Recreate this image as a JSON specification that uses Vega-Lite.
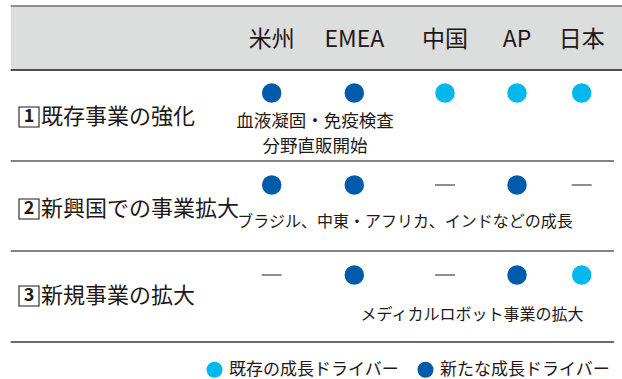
{
  "$schema": "https://vega.github.io/schema/vega-lite/v6.json",
  "width": 622,
  "height": 379,
  "autosize": {"type": "fit", "contains": "padding"},
  "padding": 0,
  "background": "white",
  "config": {"view": {"stroke": null}, "font": "Noto Sans CJK JP"},
  "datasets": {
    "grid": [
      {"region": "米州", "col": 1, "row": 1, "driver": "新たな成長ドライバー"},
      {"region": "EMEA", "col": 2, "row": 1, "driver": "新たな成長ドライバー"},
      {"region": "中国", "col": 3, "row": 1, "driver": "既存の成長ドライバー"},
      {"region": "AP", "col": 4, "row": 1, "driver": "既存の成長ドライバー"},
      {"region": "日本", "col": 5, "row": 1, "driver": "既存の成長ドライバー"},
      {"region": "米州", "col": 1, "row": 2, "driver": "新たな成長ドライバー"},
      {"region": "EMEA", "col": 2, "row": 2, "driver": "新たな成長ドライバー"},
      {"region": "中国", "col": 3, "row": 2, "driver": "なし"},
      {"region": "AP", "col": 4, "row": 2, "driver": "新たな成長ドライバー"},
      {"region": "日本", "col": 5, "row": 2, "driver": "なし"},
      {"region": "米州", "col": 1, "row": 3, "driver": "なし"},
      {"region": "EMEA", "col": 2, "row": 3, "driver": "新たな成長ドライバー"},
      {"region": "中国", "col": 3, "row": 3, "driver": "なし"},
      {"region": "AP", "col": 4, "row": 3, "driver": "新たな成長ドライバー"},
      {"region": "日本", "col": 5, "row": 3, "driver": "既存の成長ドライバー"}
    ],
    "rows": [
      {"row": 1, "num": "1", "label": "既存事業の強化"},
      {"row": 2, "num": "2", "label": "新興国での事業拡大"},
      {"row": 3, "num": "3", "label": "新規事業の拡大"}
    ],
    "notes": [
      {"row": 1, "note": "血液凝固・免疫検査\n分野直販開始"},
      {"row": 2, "note": "ブラジル、中東・アフリカ、インドなどの成長"},
      {"row": 3, "note": "メディカルロボット事業の拡大"}
    ]
  },
  "resolve": {"scale": {"x": "independent", "y": "independent"}},
  "layer": [
    {
      "data": {"name": "grid"},
      "layer": [
        {
          "data": {"values": [{}]},
          "mark": {"type": "rect", "color": "#dcdddd"},
          "encoding": {
            "x": {"datum": -0.5, "type": "quantitative", "axis": null,
                  "scale": {"domain": [-0.5, 0, 1, 2, 3, 4, 5, 5.5], "range": [10.7, 31.7, 271.7, 354.3, 445, 517, 581.7, 622], "zero": false, "nice": false}},
            "x2": {"datum": 5.5},
            "y": {"datum": -0.5, "type": "quantitative", "axis": null,
                  "scale": {"domain": [-0.5, 0, 0.5, 1, 1.5, 2, 2.5, 3, 3.5], "range": [6, 40, 70, 93, 161, 185, 251, 275, 342], "zero": false, "nice": false}},
            "y2": {"datum": 0.5}
          }
        },
        {
          "data": {"values": [{}]},
          "mark": {"type": "rule", "color": "#6e6e6e", "strokeWidth": 1.3},
          "encoding": {"x": {"datum": -0.5, "type": "quantitative"}, "x2": {"datum": 5.5}, "y": {"datum": -0.5, "type": "quantitative"}}
        },
        {
          "data": {"values": [{}]},
          "mark": {"type": "rule", "color": "#1a1a1a", "strokeWidth": 1.4},
          "encoding": {"x": {"datum": -0.5, "type": "quantitative"}, "x2": {"datum": 5.5}, "y": {"datum": 0.5, "type": "quantitative"}}
        },
        {
          "data": {"values": [{}]},
          "mark": {"type": "rule", "color": "#5a5a5a", "strokeWidth": 1.3},
          "encoding": {"x": {"datum": -0.5, "type": "quantitative"}, "x2": {"datum": 5.4}, "y": {"datum": 1.5, "type": "quantitative"}}
        },
        {
          "data": {"values": [{}]},
          "mark": {"type": "rule", "color": "#5a5a5a", "strokeWidth": 1.3},
          "encoding": {"x": {"datum": -0.5, "type": "quantitative"}, "x2": {"datum": 5.4}, "y": {"datum": 2.5, "type": "quantitative"}}
        },
        {
          "data": {"values": [{}]},
          "mark": {"type": "rule", "color": "#3a3a3a", "strokeWidth": 1.3},
          "encoding": {"x": {"datum": -0.5, "type": "quantitative"}, "x2": {"datum": 5.4}, "y": {"datum": 3.5, "type": "quantitative"}}
        },
        {
          "transform": [{"filter": "datum.row === 1"}],
          "mark": {"type": "text", "fontSize": 23, "color": "#231815", "baseline": "middle", "align": "center", "font": "Noto Sans CJK JP"},
          "encoding": {
            "x": {"field": "col", "type": "quantitative"},
            "y": {"datum": 0, "type": "quantitative"},
            "text": {"field": "region"}
          }
        },
        {
          "transform": [{"filter": "datum.driver !== 'なし'"}],
          "mark": {"type": "point", "filled": true, "size": 380, "opacity": 1, "strokeWidth": 0},
          "encoding": {
            "x": {"field": "col", "type": "quantitative"},
            "y": {"field": "row", "type": "quantitative"},
            "color": {
              "field": "driver", "type": "nominal",
              "scale": {"domain": ["既存の成長ドライバー", "新たな成長ドライバー"], "range": ["#00b7ee", "#005bab"]},
              "legend": {
                "orient": "none", "legendX": 206, "legendY": 361, "direction": "horizontal",
                "title": null, "symbolType": "circle", "symbolSize": 256, "symbolStrokeWidth": 0,
                "labelFontSize": 17, "labelFont": "Noto Sans CJK JP", "labelColor": "#231815",
                "labelOffset": 6, "columnPadding": 18, "labelLimit": 400, "padding": 0
              }
            }
          }
        },
        {
          "transform": [{"filter": "datum.driver === 'なし'"}],
          "mark": {"type": "point", "shape": "stroke", "filled": false, "size": 400, "stroke": "#444444", "strokeWidth": 1.2, "opacity": 1},
          "encoding": {
            "x": {"field": "col", "type": "quantitative"},
            "y": {"field": "row", "type": "quantitative"}
          }
        }
      ]
    },
    {
      "data": {"name": "rows"},
      "layer": [
        {
          "mark": {"type": "point", "shape": "square", "filled": false, "size": 400, "stroke": "#231815", "strokeWidth": 1.1, "opacity": 1},
          "encoding": {
            "x": {"datum": 0, "type": "quantitative", "axis": null,
                  "scale": {"domain": [-0.5, 0, 5.5], "range": [10.7, 29, 622], "zero": false, "nice": false}},
            "y": {"field": "row", "type": "quantitative", "axis": null,
                  "scale": {"domain": [1, 2, 3], "range": [117, 209, 296], "zero": false, "nice": false}}
          }
        },
        {
          "mark": {"type": "text", "fontSize": 18, "fontWeight": "bold", "color": "#231815", "align": "center", "baseline": "middle", "font": "Noto Sans CJK JP"},
          "encoding": {
            "x": {"datum": 0, "type": "quantitative"},
            "y": {"field": "row", "type": "quantitative"},
            "text": {"field": "num"}
          }
        },
        {
          "mark": {"type": "text", "fontSize": 22, "color": "#231815", "align": "left", "baseline": "middle", "dx": 12, "font": "Noto Sans CJK JP"},
          "encoding": {
            "x": {"datum": 0, "type": "quantitative"},
            "y": {"field": "row", "type": "quantitative"},
            "text": {"field": "label"}
          }
        }
      ]
    },
    {
      "data": {"name": "notes"},
      "layer": [
        {
          "transform": [{"filter": "datum.row === 1"}],
          "mark": {"type": "text", "fontSize": 17.5, "color": "#231815", "align": "center", "baseline": "middle", "lineBreak": "\n", "lineHeight": 25, "font": "Noto Sans CJK JP"},
          "encoding": {
            "x": {"field": "row", "type": "quantitative", "axis": null,
                  "scale": {"domain": [1, 2, 3], "range": [315, 405, 472], "zero": false, "nice": false}},
            "y": {"field": "row", "type": "quantitative", "axis": null,
                  "scale": {"domain": [1, 2, 3], "range": [122, 222, 315], "zero": false, "nice": false}},
            "text": {"field": "note"}
          }
        },
        {
          "transform": [{"filter": "datum.row !== 1"}],
          "mark": {"type": "text", "fontSize": 16, "color": "#231815", "align": "center", "baseline": "middle", "font": "Noto Sans CJK JP"},
          "encoding": {
            "x": {"field": "row", "type": "quantitative"},
            "y": {"field": "row", "type": "quantitative"},
            "text": {"field": "note"}
          }
        }
      ]
    }
  ]
}
